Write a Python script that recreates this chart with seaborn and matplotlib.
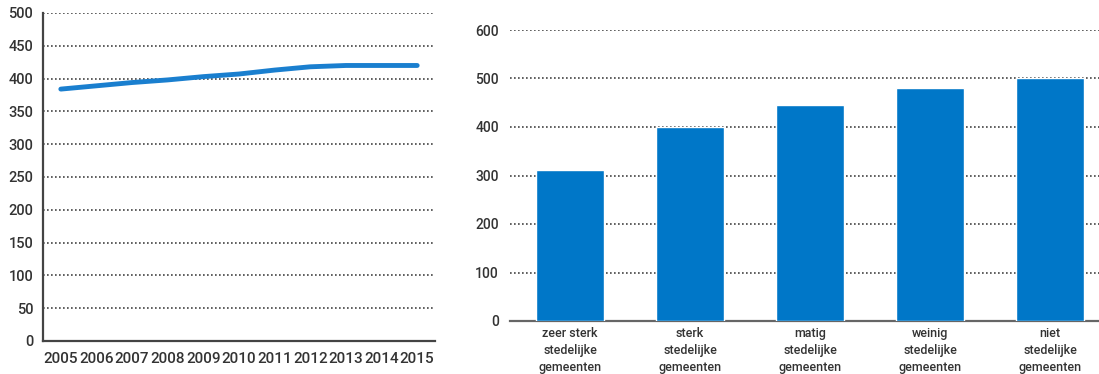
import seaborn as sns
import matplotlib.pyplot as plt
import pandas as pd

# data
years = [2005, 2006, 2007, 2008, 2009, 2010, 2011, 2012, 2013, 2014, 2015]
line_values = [384, 389, 394, 398, 403, 407, 413, 418, 420, 420, 420]

categories = ['zeer sterk\nstedelijke\ngemeenten', 'sterk\nstedelijke\ngemeenten',
              'matig\nstedelijke\ngemeenten', 'weinig\nstedelijke\ngemeenten',
              'niet\nstedelijke\ngemeenten']
bar_values = [311, 401, 445, 480, 500]

sns.set_style("white")
plt.rcParams['font.family'] = ['Roboto', 'DejaVu Sans']
plt.rcParams['font.weight'] = 'medium'

text_col = '#333333'
grid_kw = dict(color='#444444', linestyle=(0, (1, 1.4)), linewidth=1.2)

fig = plt.figure(figsize=(10.99, 3.74), dpi=100)

# left: line chart
ax1 = fig.add_axes([43 / 1099, 33 / 374, 392 / 1099, 328 / 374])
sns.lineplot(x=years, y=line_values, ax=ax1, color='#1a7fcf', linewidth=3.5)
ax1.set_xlim(2004.5, 2015.5)
ax1.set_ylim(0, 500)
ax1.set_yticks(range(0, 501, 50))
ax1.set_xticks(years)
ax1.set_xticklabels([str(y) for y in years])
ax1.grid(axis='y', **grid_kw)
ax1.set_axisbelow(True)
for s in ['top', 'right']:
    ax1.spines[s].set_visible(False)
for s in ['left', 'bottom']:
    ax1.spines[s].set_color('#444444')
    ax1.spines[s].set_linewidth(1.6)
ax1.tick_params(axis='x', direction='in', length=6, width=1.3, color='#444444',
                pad=8, labelsize=11, labelcolor=text_col)
ax1.tick_params(axis='y', length=0, pad=7, labelsize=10.5, labelcolor=text_col)

# right: bar chart
ax2 = fig.add_axes([510 / 1099, 53 / 374, 600 / 1099, 291 / 374])
df = pd.DataFrame({'cat': categories, 'val': bar_values})
sns.barplot(data=df, x='cat', y='val', ax=ax2, color='#0077c8', width=0.56,
            saturation=1, zorder=3)
ax2.set_xlim(-0.5, 4.5)
ax2.set_ylim(0, 600)
ax2.set_yticks(range(0, 601, 100))
ax2.set_xlabel('')
ax2.set_ylabel('')
ax2.grid(axis='y', **grid_kw)
ax2.set_axisbelow(True)
for s in ['top', 'right', 'left']:
    ax2.spines[s].set_visible(False)
ax2.spines['bottom'].set_color('#666666')
ax2.spines['bottom'].set_linewidth(1.6)
ax2.tick_params(axis='x', length=0, pad=4, labelsize=9, labelcolor=text_col)
ax2.tick_params(axis='y', length=0, pad=8, labelsize=10, labelcolor=text_col)
for lab in ax2.get_xticklabels():
    lab.set_linespacing(1.4)

plt.savefig("out.png", dpi=100)
